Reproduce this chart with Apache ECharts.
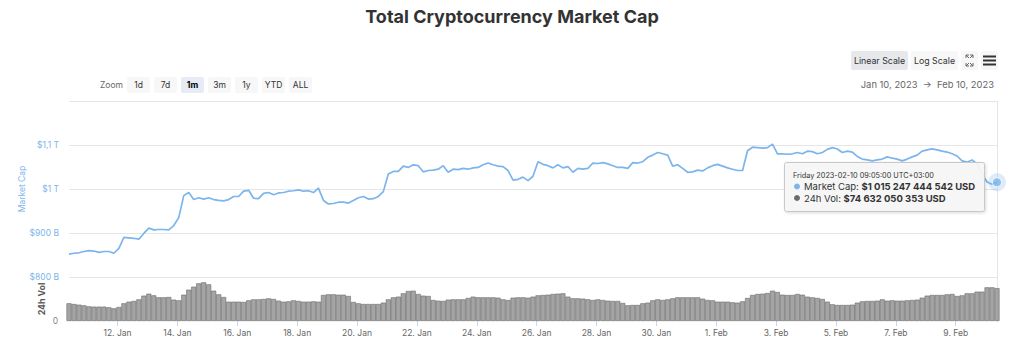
<!DOCTYPE html>
<html>
<head>
<meta charset="utf-8">
<script src="https://cdn.jsdelivr.net/npm/echarts@6/dist/echarts.min.js"></script>
<style>
html,body{margin:0;padding:0;background:#fff;}
#chart{width:1024px;height:349px;}
</style>
</head>
<body>
<div id="chart"></div>
<script>
// ---- data ----
// Market cap in billions USD, one value every 4 hours from 2023-01-10 09:05 (UTC+03:00)
const marketCapB = [
  852, 854, 855, 858, 860, 859, 856, 858, 858, 854,
  865, 890, 889, 888, 886, 899, 911, 907, 908, 908,
  907, 917, 935, 985, 992, 976, 980, 977, 980, 976,
  974, 973, 976, 983, 983, 995, 997, 979, 978, 990,
  992, 987, 991, 992, 995, 996, 998, 995, 996, 992,
  1002, 974, 966, 967, 970, 970, 968, 974, 980, 983,
  977, 978, 983, 994, 1034, 1040, 1040, 1052, 1049, 1055,
  1053, 1039, 1042, 1043, 1045, 1053, 1038, 1045, 1044, 1047,
  1045, 1048, 1049, 1055, 1059, 1055, 1052, 1051, 1042, 1020,
  1022, 1027, 1019, 1029, 1062, 1056, 1053, 1048, 1055, 1048,
  1051, 1038, 1047, 1045, 1047, 1059, 1058, 1060, 1057, 1053,
  1049, 1049, 1047, 1060, 1059, 1062, 1072, 1077, 1083, 1080,
  1077, 1052, 1055, 1047, 1038, 1039, 1043, 1041, 1048, 1053,
  1056, 1052, 1048, 1045, 1042, 1042, 1087, 1095, 1094, 1093,
  1094, 1102, 1080, 1080, 1079, 1080, 1083, 1080, 1086, 1085,
  1080, 1083, 1090, 1094, 1091, 1083, 1086, 1084, 1074, 1068,
  1066, 1064, 1066, 1068, 1073, 1070, 1068, 1064, 1068, 1073,
  1077, 1086, 1089, 1091, 1089, 1086, 1084, 1080, 1075, 1064,
  1061, 1066, 1057, 1034, 1016, 1011, 1015.247444542
];
// 24h volume in billions USD, same timestamps
const volumeB = [
  40.2, 38.6, 37.1, 35.6, 33.3, 32.6, 32.6, 32.6, 31.1, 28.8,
  31.8, 40.2, 43.9, 45.5, 49.2, 57.6, 62.1, 58.3, 53.8, 53.8,
  54.5, 48.5, 47.0, 59.8, 71.2, 78.0, 85.6, 87.9, 83.3, 68.9,
  60.6, 54.5, 43.9, 43.9, 43.9, 43.2, 47.0, 49.2, 49.2, 50.0,
  51.5, 50.0, 46.2, 43.9, 44.7, 47.0, 45.5, 43.9, 43.9, 44.7,
  43.9, 59.1, 60.6, 60.6, 59.8, 59.8, 56.8, 43.2, 40.2, 38.6,
  38.6, 38.6, 38.6, 41.7, 49.2, 53.8, 55.3, 62.9, 68.2, 68.9,
  61.4, 57.6, 56.8, 47.7, 46.2, 45.5, 48.5, 49.2, 49.2, 49.2,
  52.3, 55.3, 53.8, 53.8, 53.8, 53.8, 53.0, 49.2, 47.7, 53.0,
  53.8, 53.8, 53.0, 55.3, 58.3, 59.1, 59.8, 61.4, 62.1, 62.9,
  55.3, 51.5, 51.5, 50.8, 49.2, 47.7, 49.2, 47.7, 46.2, 45.5,
  45.5, 40.9, 35.6, 36.4, 36.4, 40.2, 41.7, 47.0, 49.2, 47.7,
  49.2, 51.5, 53.8, 53.8, 53.8, 53.8, 53.8, 50.8, 47.7, 47.0,
  43.9, 43.9, 43.9, 42.4, 41.7, 44.7, 52.3, 59.1, 61.4, 62.1,
  63.6, 68.9, 65.9, 59.8, 59.1, 59.1, 61.4, 59.8, 55.3, 53.8,
  52.3, 50.0, 43.9, 37.9, 36.4, 36.4, 36.4, 37.1, 41.7, 44.7,
  45.5, 45.5, 46.2, 49.2, 46.2, 47.0, 46.2, 46.2, 47.0, 47.7,
  48.5, 53.0, 57.6, 59.1, 59.1, 59.1, 60.6, 61.4, 56.8, 58.3,
  62.9, 62.9, 66.7, 66.7, 76.5, 76.5, 74.632050353
];
const startTime = '2023-01-10T09:05:00Z';   // shown as local UTC+03:00 time
const stepHours = 4;
const xTickDates = ['2023-01-12','2023-01-14','2023-01-16','2023-01-18','2023-01-20','2023-01-22',
  '2023-01-24','2023-01-26','2023-01-28','2023-01-30','2023-02-01','2023-02-03','2023-02-05',
  '2023-02-07','2023-02-09'];
const monthNames = ['Jan','Feb','Mar','Apr','May','Jun','Jul','Aug','Sep','Oct','Nov','Dec'];
const dayNames = ['Sunday','Monday','Tuesday','Wednesday','Thursday','Friday','Saturday'];
const capTicks = [800, 900, 1000, 1100, 1200];
const capTickLabels = ['$800 B', '$900 B', '$1 T', '$1,1 T', ''];
const volTicks = [0, 100];
const volTickLabels = ['0', ''];
const zoomButtons = ['1d','7d','1m','3m','1y','YTD','ALL'];
const zoomSelected = '1m';
const rangeText = 'Jan 10, 2023  \u2192  Feb 10, 2023';
const titleText = 'Total Cryptocurrency Market Cap';

// ---- derived ----
const FONT = 'Inter, "Noto Sans", Roboto, sans-serif';
const t0 = Date.parse(startTime);
const times = marketCapB.map((_, i) => t0 + i * stepHours * 3600000);
const tickTimes = xTickDates.map(d => Date.parse(d));
const last = times.length - 1;
const pad2 = n => String(n).padStart(2, '0');
const groupDigits = n => String(Math.round(n)).replace(/\B(?=(\d{3})+(?!\d))/g, ' ');
const dLast = new Date(times[last]);
const tipDate = dayNames[dLast.getUTCDay()] + ' ' + dLast.getUTCFullYear() + '-' + pad2(dLast.getUTCMonth() + 1) + '-' +
  pad2(dLast.getUTCDate()) + ' ' + pad2(dLast.getUTCHours()) + ':' + pad2(dLast.getUTCMinutes()) + ':00 UTC+03:00';
const tipCap = '$' + groupDigits(marketCapB[last] * 1e9) + ' USD';
const tipVol = '$' + groupDigits(volumeB[last] * 1e9) + ' USD';

const BLUE = '#7cb5ec';
const chart = echarts.init(document.getElementById('chart'), null, {renderer: 'svg'});

const graphics = [];
graphics.push({type: 'text', x: 100, y: 85, style: {text: 'Zoom', font: '8.5px ' + FONT, fill: '#666', verticalAlign: 'middle'}});
zoomButtons.forEach((b, i) => {
  const x = 127 + i * 27;
  const sel = b === zoomSelected;
  graphics.push({type: 'rect', shape: {x: x, y: 77, width: 23, height: 16, r: 2},
    style: {fill: sel ? '#e6ebf5' : '#f7f7f7'}});
  graphics.push({type: 'text', x: x + 11.5, y: 85,
    style: {text: b, font: (sel ? 'bold ' : '') + '8.5px ' + FONT, fill: sel ? '#000' : '#333',
      align: 'center', verticalAlign: 'middle'}});
});
graphics.push({type: 'rect', shape: {x: 851, y: 51, width: 57, height: 19, r: 2}, style: {fill: '#e6e8ec'}});
graphics.push({type: 'text', x: 879.5, y: 60.5, style: {text: 'Linear Scale', font: '8.8px ' + FONT, fill: '#333', align: 'center', verticalAlign: 'middle'}});
graphics.push({type: 'rect', shape: {x: 911, y: 51, width: 47, height: 19, r: 2}, style: {fill: '#f7f7f7'}});
graphics.push({type: 'text', x: 934.5, y: 60.5, style: {text: 'Log Scale', font: '8.8px ' + FONT, fill: '#333', align: 'center', verticalAlign: 'middle'}});
graphics.push({type: 'rect', shape: {x: 961, y: 51, width: 17, height: 19, r: 2}, style: {fill: '#f7f7f7'}});
graphics.push({type: 'rect', shape: {x: 981, y: 51, width: 17, height: 19, r: 2}, style: {fill: '#f7f7f7'}});
// fullscreen icon
[[966, 55, 1, 1], [973, 55, -1, 1], [966, 66, 1, -1], [973, 66, -1, -1]].forEach(([cx, cy, sx, sy]) => {
  graphics.push({type: 'polyline', shape: {points: [[cx + sx * 3, cy], [cx, cy], [cx, cy + sy * 3]]},
    style: {stroke: '#666', lineWidth: 1, fill: null}});
  graphics.push({type: 'line', shape: {x1: cx, y1: cy, x2: cx + sx * 3, y2: cy + sy * 3},
    style: {stroke: '#666', lineWidth: 1}});
});
// hamburger icon
[56.5, 60.5, 64.5].forEach(y => graphics.push({type: 'line', shape: {x1: 983, y1: y, x2: 996, y2: y},
  style: {stroke: '#333', lineWidth: 2}}));
graphics.push({type: 'text', x: 994, y: 84, style: {text: rangeText, font: '9.4px ' + FONT, fill: '#666', align: 'right', verticalAlign: 'middle'}});
// right border of the plot
graphics.push({type: 'line', shape: {x1: 997.5, y1: 101, x2: 997.5, y2: 322}, style: {stroke: '#e6e6e6', lineWidth: 1}, z: 1});
// tooltip box
graphics.push({type: 'group', z: 100, children: [
  {type: 'rect', z: 100, shape: {x: 784.5, y: 162.5, width: 200, height: 49, r: 2},
    style: {fill: 'rgba(247,247,247,0.92)', stroke: '#c8c8c8', lineWidth: 1,
      shadowBlur: 3, shadowOffsetX: 1, shadowOffsetY: 1, shadowColor: 'rgba(0,0,0,0.15)'}},
  {type: 'text', z: 101, x: 793, y: 175.5, style: {text: tipDate, font: '7.3px ' + FONT, fill: '#333', verticalAlign: 'middle'}},
  {type: 'circle', z: 101, shape: {cx: 797, cy: 186.5, r: 3}, style: {fill: BLUE}},
  {type: 'text', z: 101, x: 804, y: 186.5, style: {text: '{a|Market Cap: }{b|' + tipCap + '}', verticalAlign: 'middle',
    rich: {a: {fontSize: 9.5, fontFamily: FONT, fill: '#333'}, b: {fontSize: 9.5, fontWeight: 'bold', fontFamily: FONT, fill: '#333'}}}},
  {type: 'circle', z: 101, shape: {cx: 797, cy: 198, r: 3}, style: {fill: '#6b6b6b'}},
  {type: 'text', z: 101, x: 804, y: 198, style: {text: '{a|24h Vol: }{b|' + tipVol + '}', verticalAlign: 'middle',
    rich: {a: {fontSize: 9.5, fontFamily: FONT, fill: '#333'}, b: {fontSize: 9.5, fontWeight: 'bold', fontFamily: FONT, fill: '#333'}}}}
]});

const xLabelFmt = v => { const d = new Date(v); return d.getUTCDate() + '. ' + monthNames[d.getUTCMonth()]; };

const option = {
  animation: false,
  backgroundColor: '#fff',
  textStyle: {fontFamily: FONT},
  title: {text: titleText, left: 'center', top: 7, padding: 0,
    textStyle: {fontSize: 18, fontWeight: 'bold', color: '#333', fontFamily: FONT}},
  grid: [
    {left: 69, right: 27, top: 101, height: 176},
    {left: 69, right: 27, top: 277, height: 44}
  ],
  xAxis: [
    {type: 'value', gridIndex: 0, min: times[0], max: times[last], scale: true,
      axisLine: {show: false}, axisTick: {show: false}, axisLabel: {show: false}, splitLine: {show: false}},
    {type: 'value', gridIndex: 1, min: times[0], max: times[last], scale: true,
      axisLine: {show: false},
      axisTick: {show: true, length: 5, lineStyle: {color: '#ccd6eb'}, customValues: tickTimes},
      axisLabel: {customValues: tickTimes, fontSize: 8.5, color: '#666', margin: 7, formatter: xLabelFmt},
      splitLine: {show: false}}
  ],
  yAxis: [
    {type: 'value', gridIndex: 0, min: capTicks[0], max: capTicks[capTicks.length - 1], interval: 100,
      axisLine: {show: false}, axisTick: {show: false},
      axisLabel: {color: BLUE, fontSize: 8.5, margin: 10,
        formatter: v => { const k = capTicks.indexOf(v); return k >= 0 ? capTickLabels[k] : ''; }},
      splitLine: {lineStyle: {color: '#e6e6e6'}},
      name: 'Market Cap', nameLocation: 'middle', nameRotate: 90, nameGap: 43, nameMoveOverlap: false,
      nameTextStyle: {color: BLUE, fontSize: 8.5}},
    {type: 'value', gridIndex: 1, min: volTicks[0], max: volTicks[1], interval: 100,
      axisLine: {show: false}, axisTick: {show: false},
      axisLabel: {color: '#888', fontSize: 8.5, margin: 11,
        formatter: v => { const k = volTicks.indexOf(v); return k >= 0 ? volTickLabels[k] : ''; }},
      splitLine: {show: false},
      name: '24h Vol', nameLocation: 'middle', nameRotate: 90, nameGap: 23, nameMoveOverlap: false,
      nameTextStyle: {color: '#555', fontSize: 8.8, fontWeight: 'bold'}}
  ],
  series: [
    {type: 'bar', name: '24h Vol', xAxisIndex: 1, yAxisIndex: 1,
      data: times.map((t, i) => [t, volumeB[i]]),
      barWidth: 5, itemStyle: {color: '#a4a4a4', borderColor: '#6a6a6a', borderWidth: 0.6}, silent: true},
    {type: 'line', name: 'Market Cap', xAxisIndex: 0, yAxisIndex: 0,
      data: times.map((t, i) => [t, marketCapB[i]]),
      showSymbol: false, lineStyle: {color: BLUE, width: 1.7}, itemStyle: {color: BLUE}, silent: true, z: 3},
    {type: 'scatter', xAxisIndex: 0, yAxisIndex: 0, data: [[times[last], marketCapB[last]]],
      symbolSize: 18, itemStyle: {color: BLUE, opacity: 0.25}, silent: true, z: 4, clip: false},
    {type: 'scatter', xAxisIndex: 0, yAxisIndex: 0, data: [[times[last], marketCapB[last]]],
      symbolSize: 9, itemStyle: {color: BLUE, borderColor: '#fff', borderWidth: 1}, silent: true, z: 5, clip: false}
  ],
  graphic: graphics
};
chart.setOption(option);
</script>
</body>
</html>
